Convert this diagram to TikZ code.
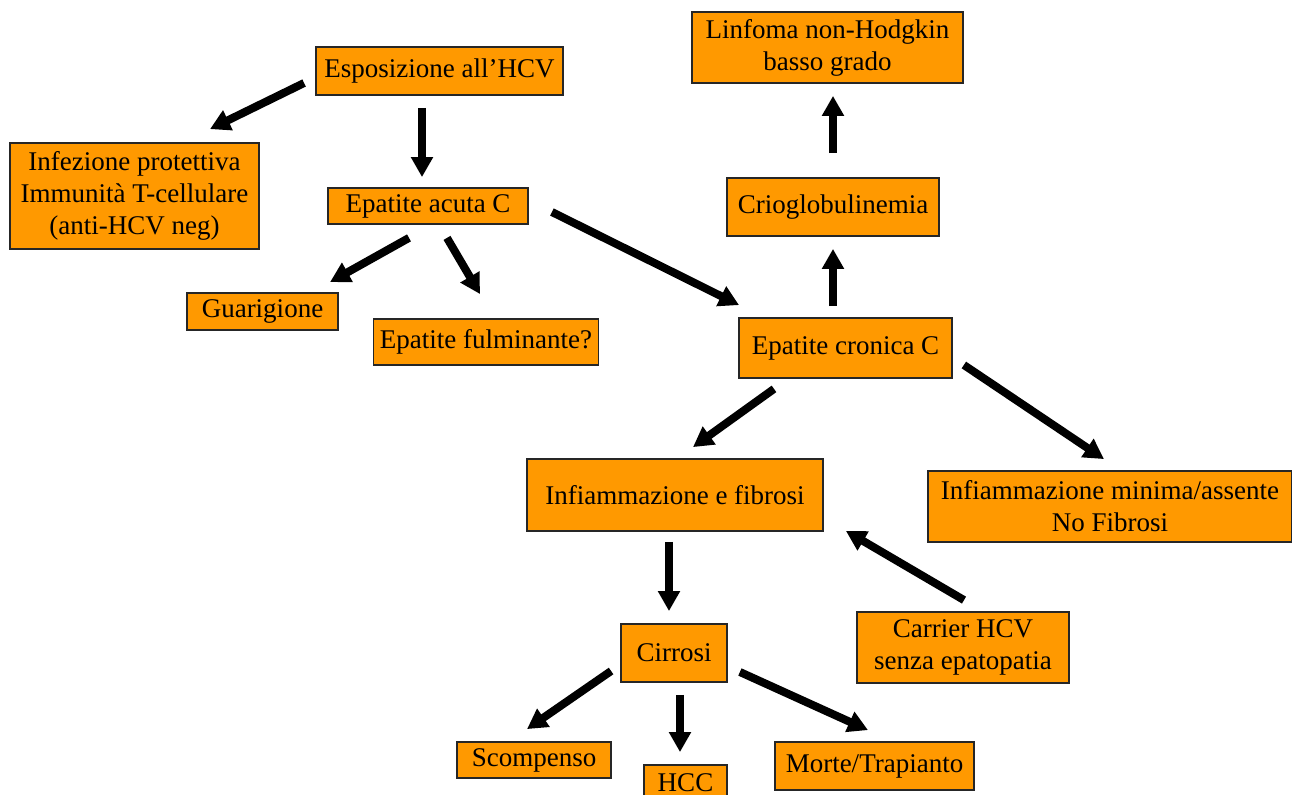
\documentclass[tikz,border=0pt]{standalone}
\usepackage{fontspec}
\setmainfont{Liberation Serif}
\usetikzlibrary{arrows.meta}
\definecolor{boxorange}{HTML}{FF9900}

\begin{document}
\begin{tikzpicture}[x=0.5pt, y=-0.5pt, every node/.style={font=\fontsize{13.5}{16}\selectfont}]

% Define styles for the chart
\tikzstyle{box} = [rectangle, inner sep=1pt, align=center, draw=black!85, line width=0.9pt, fill=boxorange]
\tikzstyle{arrow} = [line width=4pt, -{Triangle[length=10pt,width=10.5pt]}]

\clip (0,0) rectangle (1292,795);

% Nodes
\node (expo) [box, minimum width=123.5pt, minimum height=24pt] at (439.5,71) {Esposizione all'HCV};
\node (infez) [box, minimum width=124.5pt, minimum height=53pt] at (134.5,196) {Infezione protettiva\\Immunità T-cellulare\\(anti-HCV neg)};
\node (acuta) [box, minimum width=100pt, minimum height=18pt] at (428,206) {Epatite acuta C};
\node (guarig) [box, minimum width=75.5pt, minimum height=18.5pt] at (262.5,311.5) {Guarigione};
\node (fulmin) [box, minimum width=112.5pt, minimum height=23pt] at (486,342) {Epatite fulminante?};
\node (linfoma) [box, minimum width=135.5pt, minimum height=35.5pt] at (827.5,47.5) {Linfoma non-Hodgkin\\basso grado};
\node (crio) [box, minimum width=106pt, minimum height=29pt] at (833,207) {Crioglobulinemia};
\node (cronica) [box, minimum width=106.5pt, minimum height=30pt] at (845.5,348) {Epatite cronica C};
\node (fibrosi) [box, minimum width=148pt, minimum height=36pt] at (675,495) {Infiammazione e fibrosi};
\node (minima) [box, minimum width=182pt, minimum height=35.5pt] at (1110,506.5) {Infiammazione minima/assente\\No Fibrosi};
\node (carrier) [box, minimum width=106pt, minimum height=35.5pt] at (963,647.5) {Carrier HCV\\senza epatopatia};
\node (cirrosi) [box, minimum width=53pt, minimum height=29pt] at (674,653) {Cirrosi};
\node (scomp) [box, minimum width=77pt, minimum height=18pt] at (534,760) {Scompenso};
\node (hcc) [box, minimum width=41.5pt, minimum height=18pt] at (685.5,783) {HCC};
\node (morte) [box, minimum width=99.5pt, minimum height=24pt] at (874.5,766) {Morte/Trapianto};

% Arrows
\draw [arrow] ([shift={(-11,12)}]expo.west) -- ([shift={(75.5,-13)}]infez.north);
\draw [arrow] ([shift={(-17.5,12)}]expo.south) -- ([shift={(-6,-10)}]acuta.north);
\draw [arrow] ([shift={(-19,13)}]acuta.south) -- ([shift={(67.5,-10)}]guarig.north);
\draw [arrow] ([shift={(19,13)}]acuta.south) -- ([shift={(-6,-24)}]fulmin.north);
\draw [arrow] ([shift={(23,6)}]acuta.east) -- ([shift={(1,-12)}]cronica.north west);
\draw [arrow] ([shift={(-12.5,-11)}]cronica.north) -- ([shift={(0,12)}]crio.south);
\draw [arrow] ([shift={(0,-24)}]crio.north) -- ([shift={(5.5,12)}]linfoma.south);
\draw [arrow] ([shift={(-71.5,10)}]cronica.south) -- ([shift={(18,-11)}]fibrosi.north);
\draw [arrow] ([shift={(11,17)}]cronica.east) -- ([shift={(-6,-11)}]minima.north);
\draw [arrow] ([shift={(-6,10)}]fibrosi.south) -- ([shift={(-5,-12)}]cirrosi.north);
\draw [arrow] ([shift={(1,-11)}]carrier.north) -- ([shift={(22,-1)}]fibrosi.south east);
\draw [arrow] ([shift={(-9,18)}]cirrosi.west) -- ([shift={(-7,-12)}]scomp.north);
\draw [arrow] ([shift={(6,12)}]cirrosi.south) -- ([shift={(-5.5,-12)}]hcc.north);
\draw [arrow] ([shift={(12,19)}]cirrosi.east) -- ([shift={(-6.5,-11)}]morte.north);

\end{tikzpicture}
\end{document}
